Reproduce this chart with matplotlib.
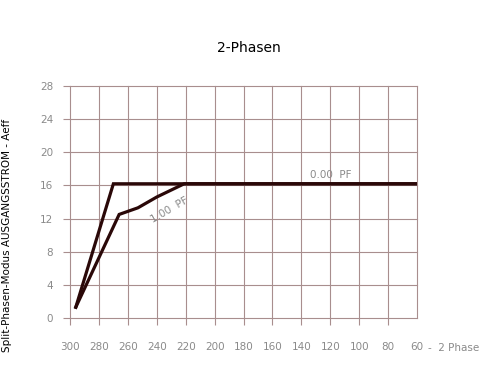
import numpy as np
import matplotlib.pyplot as plt

# Daten
pf0_x = [296, 270, 60]
pf0_y = [1.3, 16.2, 16.2]
pf1_x = [296, 266, 253, 240, 221, 60]
pf1_y = [1.3, 12.5, 13.3, 14.6, 16.2, 16.2]

xticks = [300, 280, 260, 240, 220, 200, 180, 160, 140, 120, 100, 80, 60]
yticks = [0, 4, 8, 12, 16, 20, 24, 28]

gridcol = '#a88e8e'
linecol = '#2a0808'
txtcol = '#8a8a8a'

fig = plt.figure(figsize=(4.97, 3.74), dpi=100)
ax = fig.add_axes([70/497, 1-318/374, 347/497, 232/374])

ax.plot(pf0_x, pf0_y, color=linecol, lw=2.3, solid_joinstyle='miter', zorder=3)
ax.plot(pf1_x, pf1_y, color=linecol, lw=2.3, solid_joinstyle='miter', zorder=3)

ax.set_xlim(300, 60)
ax.set_ylim(0, 28)
ax.set_xticks(xticks)
ax.set_yticks(yticks)
ax.grid(True, color=gridcol, lw=0.8, alpha=1)
for gl in ax.get_xgridlines() + ax.get_ygridlines():
    gl.set_clip_on(False)
for s in ax.spines.values():
    s.set_visible(False)
ax.tick_params(axis='x', length=5, width=0.8, color=gridcol, labelcolor=txtcol,
               labelsize=7.5, pad=12)
ax.tick_params(axis='y', length=5, width=0.8, color=gridcol, labelcolor=txtcol,
               labelsize=7.5, pad=7)
ax.xaxis.get_major_ticks()[-1].tick1line.set_visible(False)

ax.text(134, 16.6, '0.00  PF', color=txtcol, fontsize=7.5, ha='left', va='bottom')
ax.text(231, 13.0, '1.00  PF', color=txtcol, fontsize=7.5, ha='center', va='center',
        rotation=30)

fig.text(428/497, 1-348/374, '-  2 Phase', color=txtcol, fontsize=7.5,
         ha='left', va='center')

ax.set_ylabel('Split-Phasen-Modus AUSGANGSSTROM - Aeff', fontsize=7.5)
ax.yaxis.set_label_coords((12-70)/347, (318-235)/232)
fig.text(249/497, 1-48/374, '2-Phasen', ha='center', va='center', fontsize=10)

fig.savefig('out.png', dpi=100)
